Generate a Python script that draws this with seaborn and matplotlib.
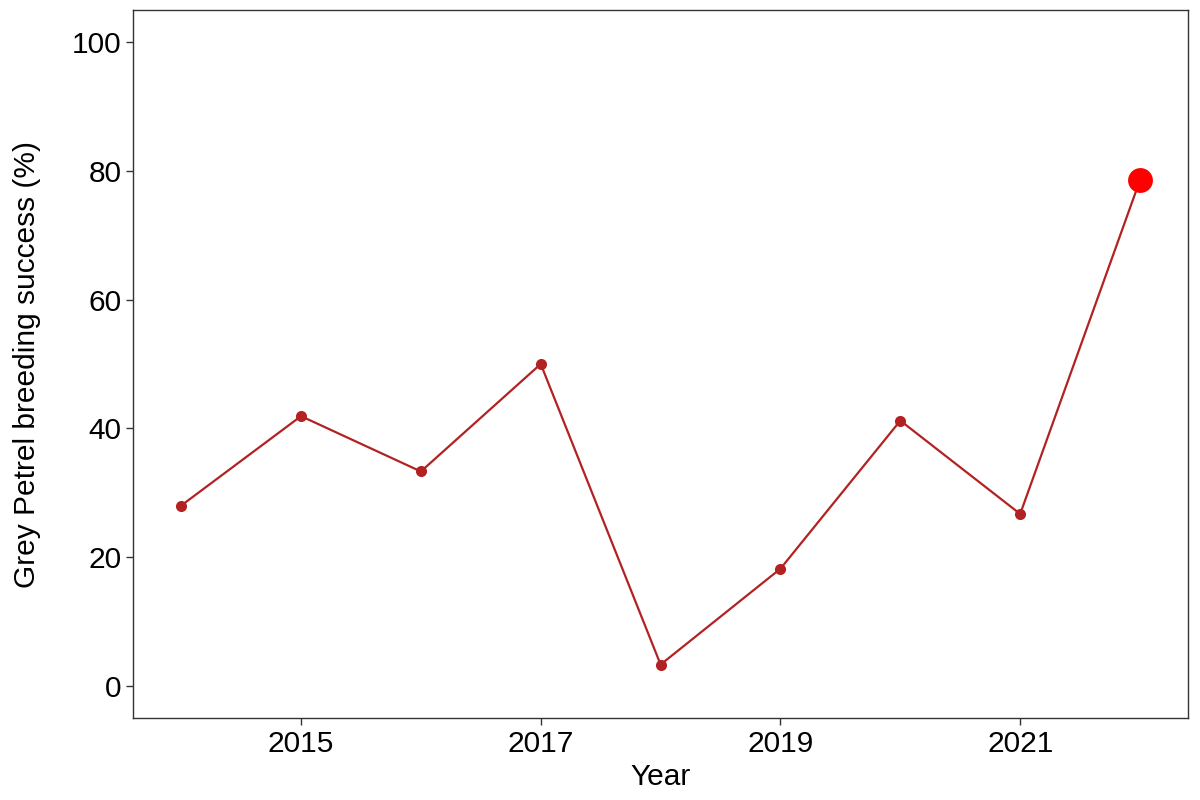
import pandas as pd
import matplotlib.pyplot as plt
import seaborn as sns

years = [2014, 2015, 2016, 2017, 2018, 2019, 2020, 2021, 2022]
success = [28.0, 41.9, 33.3, 50.0, 3.3, 18.2, 41.2, 26.7, 78.6]

df = pd.DataFrame({"Year": years, "Success": success})
latest = df[df["Year"] == 2022]

sns.set_style("white")
plt.rcParams['font.family'] = ['Liberation Sans', 'DejaVu Sans']

fig = plt.figure(figsize=(12, 8), dpi=100)
ax = fig.add_axes([0.111, 0.1025, 0.879, 0.885])

sns.lineplot(data=df, x="Year", y="Success", color="#B22222", linewidth=1.6,
             marker="o", markersize=8, markeredgewidth=0, ax=ax)
sns.scatterplot(data=latest, x="Year", y="Success", color="#FF0000", s=320,
                linewidth=0, ax=ax, zorder=5)

ax.set_xlim(2013.6, 2022.4)
ax.set_ylim(-5, 105)
ax.set_xticks([2015, 2017, 2019, 2021])
ax.set_yticks([0, 20, 40, 60, 80, 100])
ax.tick_params(axis="both", labelsize=21.5, length=5, width=1, color="#333333",
               direction="out", left=True, bottom=True, labelcolor="black")
ax.set_xlabel("Year", fontsize=21.5, labelpad=4, color="black")
ax.set_ylabel("Grey Petrel breeding success (%)", fontsize=21.5,
              labelpad=22, color="black")
for s in ax.spines.values():
    s.set_color("#333333")
    s.set_linewidth(1.0)

plt.savefig("out.png", dpi=100)
